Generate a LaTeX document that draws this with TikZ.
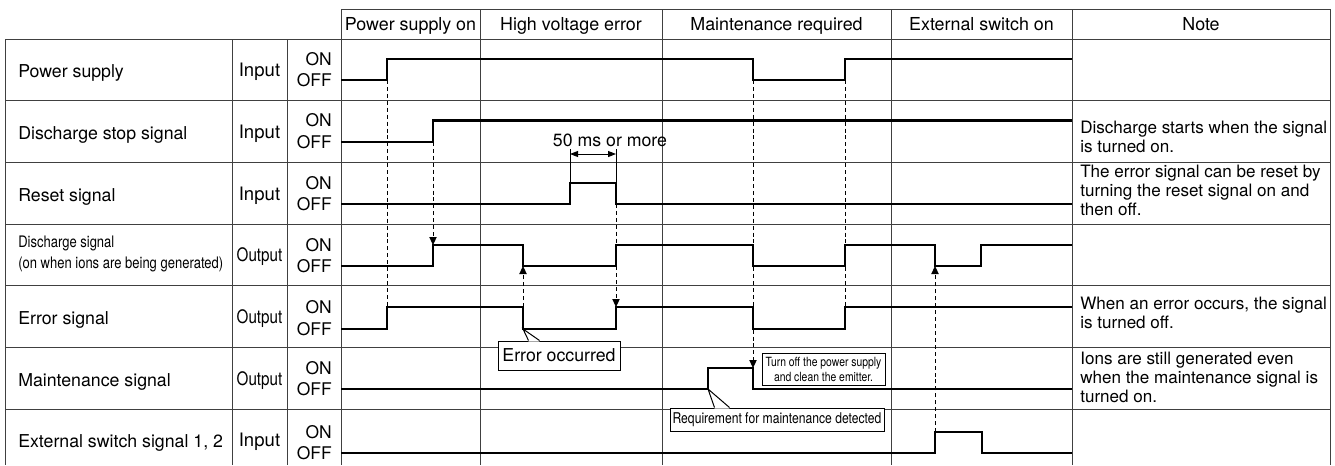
\documentclass[tikz,border=0pt]{standalone}
\usepackage{fontspec}
\setmainfont{TeX Gyre Heros}
\newfontfamily\narrowfont[FakeStretch=0.82]{TeX Gyre Heros}
\usetikzlibrary{arrows.meta, calc}

\begin{document}
\begin{tikzpicture}[x=0.75pt, y=-0.75pt,
    grid/.style={line width=0.75pt, black!75},
    wave/.style={line width=1.8pt},
    cue/.style={line width=0.75pt, dash pattern=on 3pt off 2.2pt},
    cuetip/.style={cue, -{Triangle[length=6pt, width=5.5pt]}},
    rowlabel/.style={anchor=base west, inner sep=0pt, font=\fontsize{13.3}{16}\selectfont},
    iolabel/.style={anchor=base, inner sep=0pt, font=\fontsize{13.9}{16}\selectfont},
    outlabel/.style={anchor=base, inner sep=0pt, font=\narrowfont\fontsize{13.9}{16}\selectfont},
    level/.style={anchor=east, inner sep=0pt, font=\fontsize{13.1}{15}\selectfont},
    head/.style={anchor=base, font=\fontsize{13.4}{15}\selectfont},
    note/.style={anchor=base west, align=left, inner sep=0pt, font=\fontsize{12.8}{13.9}\selectfont},
    callbox/.style={draw, line width=0.75pt, fill=white, inner sep=1pt}]

    \useasboundingbox (0,0) rectangle (1335,465);

    % table
    \draw[grid] (341,9) -- (1330,9);
    \foreach \r in {0,...,6}
        \draw[grid] (5,39+61.67*\r) -- (1330,39+61.67*\r);
    \foreach \x in {5,232,287}
        \draw[grid] (\x,39) -- (\x,465);
    \foreach \x in {341,480,662,891,1072,1330}
        \draw[grid] (\x,9) -- (\x,465);

    % header
    \node[head] (hpwr) at (410.5,30) {Power supply on};
    \node[head] (hhv)  at (571,30)   {High voltage error};
    \node[head] (hmnt) at (776.5,30) {Maintenance required};
    \node[head] (hext) at (981.5,30) {External switch on};
    \node[head] (hnote) at (1201,30) {Note};

    % signal names
    \node[rowlabel] (lpwr) at (18,77.5)  {Power supply};
    \node[rowlabel] (lstop) at (18,139)  {Discharge stop signal};
    \node[rowlabel] (lrst) at (18,201)   {Reset signal};
    \node[rowlabel, font=\narrowfont\fontsize{11.9}{15.75}\selectfont, align=left] (ldis) at (18,268)
        {Discharge signal\\(on when ions are being generated)};
    \node[rowlabel] (lerr) at (18,324.5) {Error signal};
    \node[rowlabel] (lmnt) at (18,386)   {Maintenance signal};
    \node[rowlabel] (lext) at (18,447.5) {External switch signal 1, 2};

    \node[iolabel]  (iopwr) at (259.5,76.5)  {Input};
    \node[iolabel]  (iostop) at (259.5,138)  {Input};
    \node[iolabel]  (iorst) at (259.5,200)   {Input};
    \node[outlabel] (iodis) at (259.5,261.5) {Output};
    \node[outlabel] (ioerr) at (259.5,323)   {Output};
    \node[outlabel] (iomnt) at (259.5,385)   {Output};
    \node[iolabel]  (ioext) at (259.5,446.5) {Input};

    \foreach \on/\off in {59/80, 120.5/142, 183/204, 245/266, 307/329, 368/389, 432/453} {
        \node[level] at (332,\on) {ON};
        \node[level] at (332,\off) {OFF};
    }

    % edges used by the cues
    \coordinate (pwrup)  at (387,80);
    \coordinate (pwrdn)  at (753,80);
    \coordinate (pwrup2) at (845,80);
    \coordinate (stopup) at (433,142);
    \coordinate (disup)  at (433,245);
    \coordinate (disdn)  at (523,266);
    \coordinate (disdn2) at (935,266);
    \coordinate (rstup)  at (570,183);
    \coordinate (rstdn)  at (616,183);
    \coordinate (rstlo)  at (616,204);
    \coordinate (errup)  at (387,307);
    \coordinate (errdn)  at (523,307);
    \coordinate (errlo)  at (523,329);
    \coordinate (errup2) at (616,307);
    \coordinate (errup3) at (845,307);
    \coordinate (mnton)  at (753,368);
    \coordinate (mntlo)  at (708,389);
    \coordinate (extup)  at (935,432);

    \draw[cue] (pwrup) -- (errup);
    \draw[cuetip] (stopup) -- (disup);
    \draw[cuetip] (errdn) -- (disdn);
    \draw[cuetip] (rstlo) -- (errup2);
    \draw[cuetip] (pwrdn) -- (mnton);
    \draw[cue] (pwrup2) -- (errup3);
    \draw[cuetip] (extup) -- (disdn2);

    % waveforms
    \draw[wave] (341,80) -| (387,59) -| (753,80) -| (845,59) -- (1072,59);
    \draw[wave] (341,142) -| (433,120.5) -- (1072,120.5);
    \draw[wave] (341,204) -| (570,183) -| (616,204) -- (1072,204);
    \draw[wave] (341,266) -| (433,245) -| (523,266) -| (616,245) -| (753,266)
        -| (845,245) -| (935,266) -| (981,245) -- (1072,245);
    \draw[wave] (341,329) -| (387,307) -| (523,329) -| (616,307) -| (753,329)
        -| (845,307) -- (1072,307);
    \draw[wave] (341,389) -| (708,368) -| (753,389) -- (1072,389);
    \draw[wave] (341,453) -| (935,432) -| (982,453) -- (1072,453);

    % 50 ms
    \draw[line width=0.75pt] (rstup) -- ++(0,-34);
    \draw[line width=0.75pt] (rstdn) -- ++(0,-34);
    \draw[line width=0.75pt, {Triangle[length=6pt, width=4.5pt]}-{Triangle[length=6pt, width=4.5pt]}]
        ($(rstup)+(0,-29)$) -- ($(rstdn)+(0,-29)$);
    \node[anchor=base, font=\fontsize{13.3}{15}\selectfont] (dim) at (610,146) {50 ms or more};

    % callouts
    \node[callbox, minimum width=91.5pt, minimum height=21.75pt, font=\fontsize{13.3}{15}\selectfont]
        (cerr) at (559,355.5) {Error occurred};
    \fill[white] ($(cerr.north west)+(31,1)$) -- (errlo) -- ($(cerr.north west)+(42,1)$) -- cycle;
    \draw[line width=0.75pt] ($(cerr.north west)+(31,0)$) -- (errlo) -- ($(cerr.north west)+(42,0)$);

    \node[callbox, minimum width=92.25pt, minimum height=24pt, align=center,
        font=\narrowfont\fontsize{9.5}{11.25}\selectfont]
        (coff) at (823.5,369) {Turn off the power supply\\and clean the emitter.};

    \node[callbox, minimum width=160.5pt, minimum height=17.25pt, inner sep=0pt,
        font=\narrowfont\fontsize{11.1}{13}\selectfont]
        (creq) at (777,419.5) {Requirement for maintenance detected};
    \fill[white] ($(creq.north west)+(45,1)$) -- (mntlo) -- ($(creq.north west)+(60,1)$) -- cycle;
    \draw[line width=0.75pt] ($(creq.north west)+(45,0)$) -- (mntlo) -- ($(creq.north west)+(60,0)$);

    % notes
    \node[note] (nstop) at (1080,152) {Discharge starts when the signal\\is turned on.};
    \node[note] (nrst) at (1080,215) {The error signal can be reset by\\turning the reset signal on and\\then off.};
    \node[note] (nerr) at (1080,328) {When an error occurs, the signal\\is turned off.};
    \node[note] (nmnt) at (1080,402) {Ions are still generated even\\when the maintenance signal is\\turned on.};
\end{tikzpicture}
\end{document}
